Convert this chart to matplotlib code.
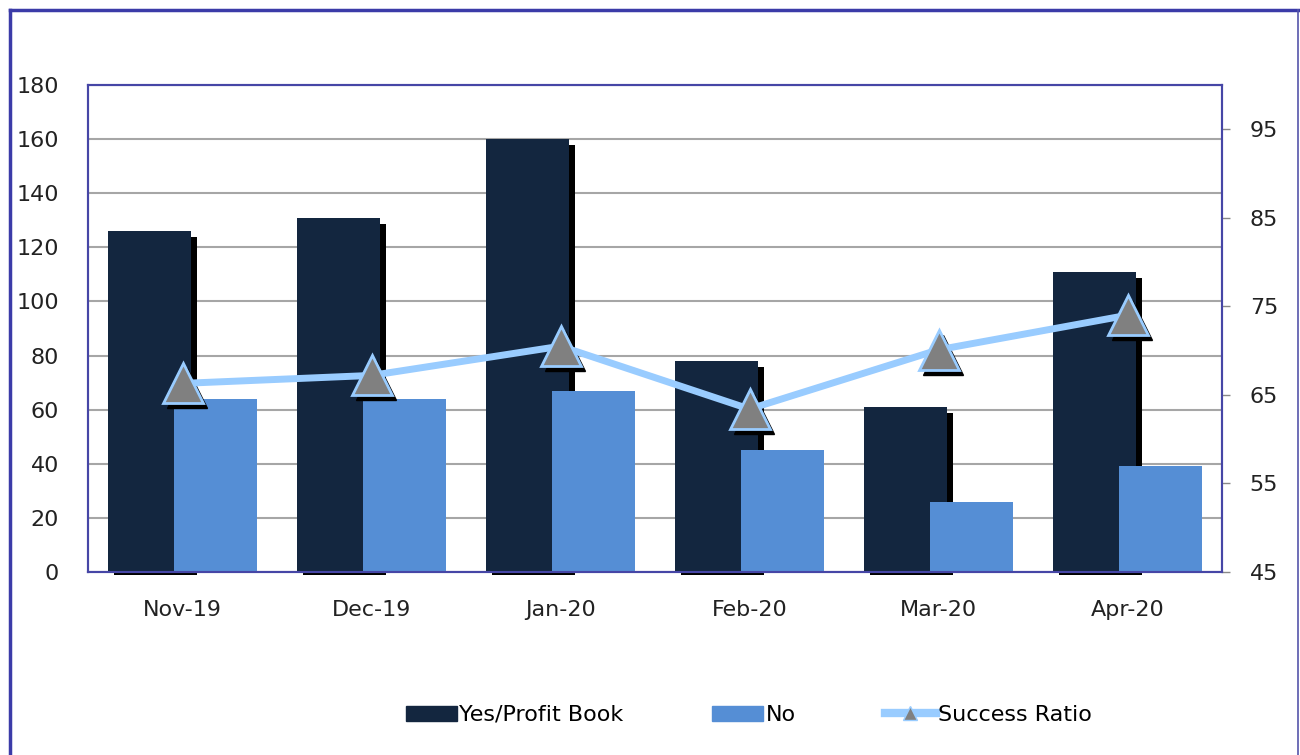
import numpy as np
import matplotlib.pyplot as plt
from matplotlib.lines import Line2D
from matplotlib.patches import Patch
from matplotlib.transforms import offset_copy, Bbox, TransformedBbox

months = ['Nov-19', 'Dec-19', 'Jan-20', 'Feb-20', 'Mar-20', 'Apr-20']
yes_profit = [126, 131, 160, 78, 61, 111]
no_vals = [64, 64, 67, 45, 26, 39]
success_ratio = [66.3, 67.2, 70.5, 63.4, 70.1, 74.0]

NAVY = '#13263f'
BLUE = '#558ed5'
LIGHT = '#99ccff'
FRAME = '#3b3ba8'

fig = plt.figure(figsize=(13, 7.55), dpi=100)
ax = fig.add_axes([0.0677, 0.2424, 0.8723, 0.645])

x = np.arange(len(months))
w = 0.44
off = 0.175

# shadow of the Yes bars (black, shifted right/down), only a sliver below the axis
shadow_tr = offset_copy(ax.transData, fig=fig, x=4.5, y=-4.5, units='points')
shadows = ax.bar(x - off, yes_profit, w, color='black', transform=shadow_tr,
                 zorder=2)
clip = TransformedBbox(Bbox([[0, -0.006], [1, 1]]), ax.transAxes)
for p in shadows:
    p.set_clip_box(clip)
ax.bar(x - off, yes_profit, w, color=NAVY, zorder=3, label='Yes/Profit Book')
ax.bar(x + off, no_vals, w, color=BLUE, zorder=4, label='No')

ax.set_xlim(-0.5, len(months) - 0.5)
ax.set_ylim(0, 180)
ax.set_yticks(range(0, 181, 20))
ax.yaxis.grid(True, color='#a6a6a6', lw=1.5, zorder=0)
ax.set_axisbelow(True)
ax.set_xticks(x)
ax.set_xticklabels(months)
ax.tick_params(axis='x', length=0, pad=20, labelsize=16, colors='#222222')
ax.tick_params(axis='y', length=0, pad=21, labelsize=16, colors='#222222')

ax2 = ax.twinx()
ax2.set_ylim(45, 100)
ax2.set_yticks(range(45, 96, 10))
ax2.tick_params(axis='y', length=6, width=1, color='#888888', pad=14,
                labelsize=16, labelcolor='#222222')

mk_shadow = offset_copy(ax2.transData, fig=fig, x=3.5, y=-3.5, units='points')
ax2.plot(x, success_ratio, '^', ms=29, color='black', transform=mk_shadow,
         zorder=4)
ax2.plot(x, success_ratio, color=LIGHT, lw=5, zorder=5)
ax2.plot(x, success_ratio, '^', ms=29, mfc='#808080', mec=LIGHT, mew=2,
         ls='none', zorder=6)

for a in (ax, ax2):
    for s in a.spines.values():
        s.set_color('#4646a6')
        s.set_linewidth(1.5)

# legend
handles = [Patch(facecolor=NAVY, edgecolor=NAVY),
           Patch(facecolor=BLUE, edgecolor=BLUE),
           Line2D([], [], color=LIGHT, lw=6, marker='^', ms=10,
                  mfc='#808080', mec=LIGHT)]
fig.legend(handles, ['Yes/Profit Book', 'No', 'Success Ratio'],
           loc='center', bbox_to_anchor=(0.576, 0.053), ncol=3, frameon=False,
           handlelength=2.3, handleheight=0.65, handletextpad=0.1,
           columnspacing=4.0,
           prop={'family': ['Liberation Sans Narrow', 'DejaVu Sans'],
                 'size': 16})

# outer frame
fig.add_artist(Line2D([10/1300, 10/1300], [0, 1 - 10/755], color=FRAME,
                      lw=2.5, transform=fig.transFigure))
fig.add_artist(Line2D([10/1300, 1298/1300], [1 - 10/755, 1 - 10/755],
                      color=FRAME, lw=2.5, transform=fig.transFigure))
fig.add_artist(Line2D([1298/1300, 1298/1300], [0, 1 - 10/755], color='#5555aa',
                      lw=1.2, transform=fig.transFigure))

fig.savefig('out.png', dpi=100)
